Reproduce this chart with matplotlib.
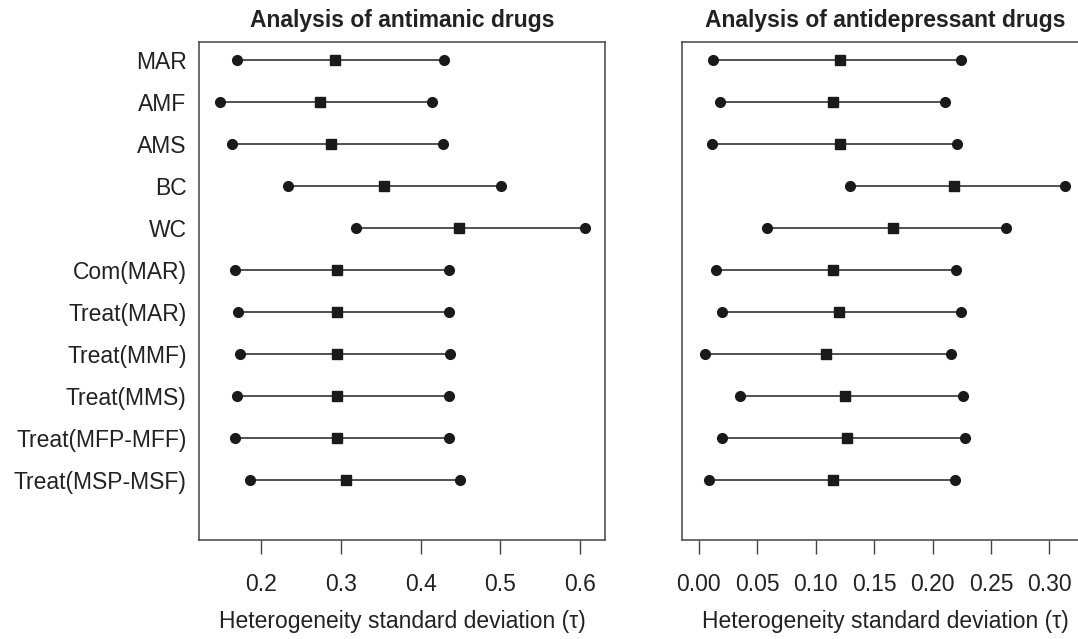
import matplotlib
matplotlib.use("Agg")
import matplotlib.pyplot as plt
import numpy as np

plt.rcParams['font.family'] = ['Liberation Sans', 'DejaVu Sans']

labels = ["MAR", "AMF", "AMS", "BC", "WC", "Com(MAR)", "Treat(MAR)",
          "Treat(MMF)", "Treat(MMS)", "Treat(MFP-MFF)", "Treat(MSP-MSF)"]

# Antimanic drugs: lower, median, upper
mania_low = [0.170, 0.149, 0.164, 0.234, 0.319, 0.168, 0.171, 0.174, 0.170, 0.168, 0.186]
mania_med = [0.293, 0.274, 0.288, 0.354, 0.448, 0.295, 0.295, 0.295, 0.295, 0.295, 0.307]
mania_up  = [0.429, 0.414, 0.428, 0.501, 0.606, 0.435, 0.435, 0.437, 0.435, 0.435, 0.450]

# Antidepressant drugs: lower, median, upper
dep_low = [0.012, 0.018, 0.011, 0.129, 0.058, 0.015, 0.020, 0.005, 0.035, 0.020, 0.009]
dep_med = [0.121, 0.115, 0.121, 0.218, 0.166, 0.115, 0.120, 0.109, 0.125, 0.127, 0.115]
dep_up  = [0.224, 0.211, 0.221, 0.313, 0.263, 0.220, 0.224, 0.216, 0.226, 0.228, 0.219]

mania_ticks = [0.2, 0.3, 0.4, 0.5, 0.6]
mania_ticklabels = ["0.2", "0.3", "0.4", "0.5", "0.6"]
dep_ticks = [0.00, 0.05, 0.10, 0.15, 0.20, 0.25, 0.30]
dep_ticklabels = ["0.00", "0.05", "0.10", "0.15", "0.20", "0.25", "0.30"]

titles = ["Analysis of antimanic drugs", "Analysis of antidepressant drugs"]
xlabel = "Heterogeneity standard deviation (\u03c4)"

W, H = 1078, 639
fig = plt.figure(figsize=(W / 100, H / 100), dpi=100)

def px_axes(x0, y0, x1, y1):
    return fig.add_axes([x0 / W, 1 - y1 / H, (x1 - x0) / W, (y1 - y0) / H])

ax1 = px_axes(199, 42, 605, 540)
ax2 = px_axes(682, 42, 1088, 540)

ypos = np.arange(1, len(labels) + 1)
fs = 16.5
tc = '#222222'

def draw(ax, low, med, up, xlim, ticks, ticklabels, title, show_y):
    for y, lo, md, hi in zip(ypos, low, med, up):
        ax.plot([lo, hi], [y, y], color='#222222', lw=1.1, zorder=1)
    ax.plot(low, ypos, 'o', color='#1a1a1a', ms=7, zorder=2)
    ax.plot(up, ypos, 'o', color='#1a1a1a', ms=7, zorder=2)
    ax.plot(med, ypos, 's', color='#1a1a1a', ms=7, zorder=3)
    ax.set_xlim(*xlim)
    ax.set_ylim(12.44, 0.56)
    ax.set_xticks(ticks)
    ax.set_xticklabels(ticklabels, fontsize=fs, color=tc)
    ax.tick_params(axis='x', length=10, width=1, color='#444444', pad=14)
    if show_y:
        ax.set_yticks(ypos)
        ax.set_yticklabels(labels, fontsize=fs, color=tc)
        ax.tick_params(axis='y', length=0, pad=9)
    else:
        ax.set_yticks([])
    for s in ax.spines.values():
        s.set_color('#444444')
        s.set_linewidth(1.1)
    ax.set_title(title, fontsize=fs, fontweight='bold', color=tc, pad=11)
    ax.set_xlabel(xlabel, fontsize=fs, color=tc, labelpad=10)

draw(ax1, mania_low, mania_med, mania_up, (0.1225, 0.631),
     mania_ticks, mania_ticklabels, titles[0], True)
draw(ax2, dep_low, dep_med, dep_up, (-0.0143, 0.333),
     dep_ticks, dep_ticklabels, titles[1], False)

fig.savefig("out.png", dpi=100, facecolor='white')
